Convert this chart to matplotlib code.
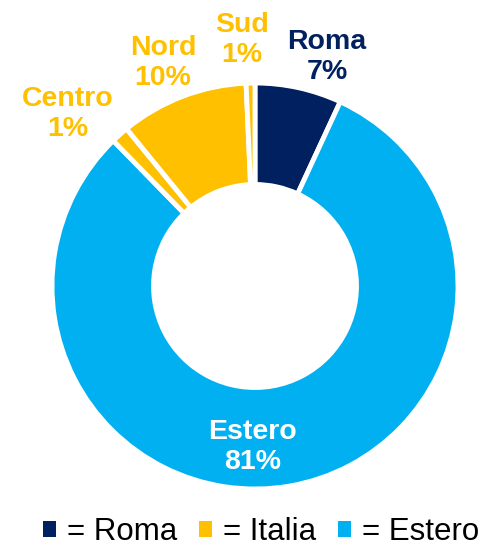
import matplotlib.pyplot as plt
from matplotlib.patches import Patch

# slices clockwise from 12 o'clock
slices = ['Roma', 'Estero', 'Centro', 'Nord', 'Sud']
values = [6.9, 80.8, 1.4, 10.2, 0.7]
shown = ['7%', '81%', '1%', '10%', '1%']
groups = ['Roma', 'Estero', 'Italia', 'Italia', 'Italia']

legend_labels = ['Roma', 'Italia', 'Estero']
group_colors = {'Roma': '#002060', 'Italia': '#FFC000', 'Estero': '#00B0F0'}

plt.rcParams['font.family'] = ['Liberation Sans', 'DejaVu Sans']

W, H = 483, 548
cx, cy, R = 255, 286, 203

fig = plt.figure(figsize=(W / 100, H / 100), dpi=100)
ax = fig.add_axes([0, 0, 1, 1])

ax.pie(values, colors=[group_colors[g] for g in groups], startangle=90,
       counterclock=False, radius=1,
       wedgeprops=dict(width=0.5, edgecolor='white', linewidth=3.5))

# pie() resets the limits, so set them afterwards
ax.set_xlim(-cx / R, (W - cx) / R)
ax.set_ylim(-(H - cy) / R, cy / R)
ax.set_aspect('equal')
ax.axis('off')

def px(x, y):
    return (x - cx) / R, (cy - y) / R

# label positions (pixels in the picture)
label_pos = {'Roma': (327, 57), 'Estero': (253, 447), 'Centro': (68, 114),
             'Nord': (163, 63), 'Sud': (242, 40)}
for name, txt, g in zip(slices, shown, groups):
    color = 'white' if g == 'Estero' else group_colors[g]
    x, y = px(*label_pos[name])
    ax.text(x, y, name + '\n' + txt, ha='center', va='center', color=color,
            fontsize=20.5, fontweight='bold', linespacing=1.17)

handles = [Patch(facecolor=group_colors[g], edgecolor='none') for g in legend_labels]
fig.legend(handles, ['= ' + g for g in legend_labels], loc='lower center',
           bbox_to_anchor=(0.54, -0.05), ncol=3, frameon=False, fontsize=22.5,
           handlelength=0.42, handleheight=0.42, handletextpad=0.35,
           columnspacing=0.7)

fig.savefig('out.png', dpi=100)
